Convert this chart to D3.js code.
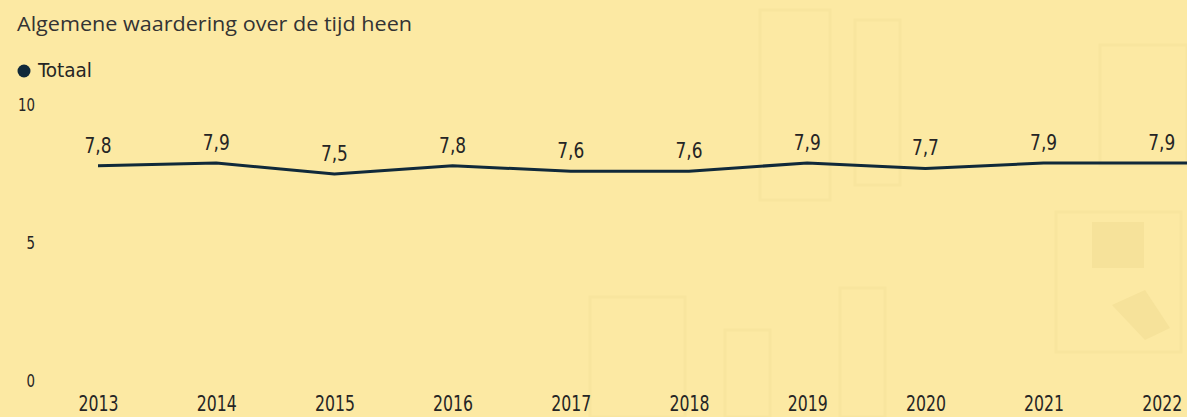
<!DOCTYPE html>
<html>
<head>
<meta charset="utf-8">
<script src="https://cdn.jsdelivr.net/npm/d3@7"></script>
<style>
  html, body { margin: 0; padding: 0; background: #FCE9A3; overflow: hidden; }
  svg { display: block; }
</style>
</head>
<body>
<svg id="chart" width="1187" height="417"></svg>
<script>
// ---- data ----
const years = ["2013","2014","2015","2016","2017","2018","2019","2020","2021","2022","2023"];
const totaal = [7.8, 7.9, 7.5, 7.8, 7.6, 7.6, 7.9, 7.7, 7.9, 7.9, 7.9];
const yTicks = [0, 5, 10];
const title = "Algemene waardering over de tijd heen";
const seriesName = "Totaal";

// ---- layout ----
const W = 1187, H = 417;
const svg = d3.select("#chart");
const narrow = "'Liberation Sans Narrow', 'DejaVu Sans Condensed', 'Roboto Condensed', sans-serif";
const textCol = "#252525";
const lineCol = "#10293A";

svg.append("rect").attr("width", W).attr("height", H).attr("fill", "#FCE9A3");

// faint background decoration
const deco = svg.append("g").attr("fill", "none").attr("stroke", "#F8E59E").attr("stroke-width", 3);
deco.append("rect").attr("x", 760).attr("y", 10).attr("width", 70).attr("height", 190);
deco.append("rect").attr("x", 855).attr("y", 20).attr("width", 45).attr("height", 165);
deco.append("rect").attr("x", 1100).attr("y", 45).attr("width", 87).attr("height", 120);
deco.append("rect").attr("x", 1056).attr("y", 212).attr("width", 125).attr("height", 140);
deco.append("rect").attr("x", 590).attr("y", 297).attr("width", 95).attr("height", 120);
deco.append("rect").attr("x", 725).attr("y", 330).attr("width", 45).attr("height", 87);
deco.append("rect").attr("x", 840).attr("y", 288).attr("width", 45).attr("height", 129);
svg.append("rect").attr("x", 1092).attr("y", 222).attr("width", 52).attr("height", 46).attr("fill", "#F6E29A");
svg.append("path").attr("d", "M1112,305 L1145,290 L1170,328 L1145,340 Z").attr("fill", "#F6E29A");

// title
svg.append("text")
  .attr("x", 17).attr("y", 31)
  .attr("font-family", "'Open Sans', 'Noto Sans', sans-serif")
  .attr("font-size", 20)
  .attr("fill", "#333333")
  .attr("textLength", 395).attr("lengthAdjust", "spacingAndGlyphs")
  .text(title);

// legend
svg.append("circle").attr("cx", 24).attr("cy", 71).attr("r", 6.5).attr("fill", lineCol);
svg.append("text")
  .attr("x", 38).attr("y", 77)
  .attr("font-family", narrow).attr("font-size", 19)
  .attr("fill", textCol)
  .attr("textLength", 54).attr("lengthAdjust", "spacingAndGlyphs")
  .text(seriesName);

// scales
const x = d3.scalePoint().domain(years).range([98, 98 + 118.2 * (years.length - 1)]);
const y = d3.scaleLinear().domain([0, 10]).range([381, 105]);
const visible = d => x(d) + 22 <= W;

// y axis
const yAxis = d3.axisLeft(y).tickValues(yTicks).tickSize(0).tickPadding(0).tickFormat(d3.format("d"));
const gy = svg.append("g").attr("transform", "translate(35,0)").call(yAxis);
gy.select(".domain").remove();
gy.selectAll("text").attr("font-family", narrow).attr("font-size", 17).attr("fill", textCol)
  .attr("textLength", d => String(d).length * 8.5).attr("lengthAdjust", "spacingAndGlyphs");

// x axis (only the categories that fall inside the visible area get a label)
const xAxis = d3.axisBottom(x).tickValues(years.filter(visible)).tickSize(0).tickPadding(0);
const gx = svg.append("g").attr("transform", "translate(0,396)").call(xAxis);
gx.select(".domain").remove();
gx.selectAll("text").attr("font-family", narrow).attr("font-size", 21).attr("fill", textCol).attr("dy", "0.72em")
  .attr("textLength", 40).attr("lengthAdjust", "spacingAndGlyphs");

// line
const line = d3.line().x((d, i) => x(years[i])).y(d => y(d));
svg.append("path")
  .datum(totaal)
  .attr("d", line)
  .attr("fill", "none")
  .attr("stroke", lineCol)
  .attr("stroke-width", 3)
  .attr("stroke-linejoin", "round");

// data labels
const fmt = v => d3.format(".1f")(v).replace(".", ",");
const labelled = totaal.map((v, i) => ({ year: years[i], v })).filter(d => visible(d.year));
svg.append("g").selectAll("text")
  .data(labelled)
  .join("text")
  .attr("x", d => x(d.year))
  .attr("y", d => y(d.v) - 13)
  .attr("text-anchor", "middle")
  .attr("font-family", narrow).attr("font-size", 21)
  .attr("fill", textCol)
  .attr("textLength", 27).attr("lengthAdjust", "spacingAndGlyphs")
  .text(d => fmt(d.v));
</script>
</body>
</html>
